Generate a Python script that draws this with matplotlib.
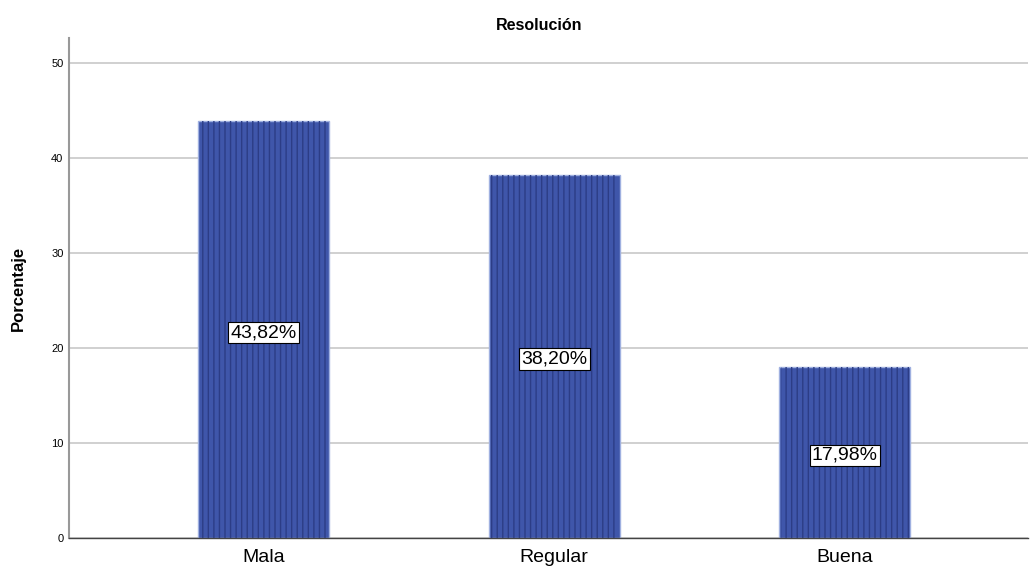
import matplotlib
matplotlib.use("Agg")
import matplotlib.pyplot as plt

categories = ["Mala", "Regular", "Buena"]
values = [43.82, 38.20, 17.98]
labels = ["43,82%", "38,20%", "17,98%"]
yticks = [0, 10, 20, 30, 40, 50]

plt.rcParams['font.family'] = ['Liberation Sans', 'DejaVu Sans']
plt.rcParams['hatch.linewidth'] = 1.0
plt.rcParams['hatch.color'] = '#2c3d86'

fig = plt.figure(figsize=(10.3, 5.67), dpi=100)
ax = fig.add_axes([0.067, 0.0511, 0.931, 0.882])

x = list(range(len(categories)))
ax.bar(x, values, width=0.45, color='#3f56aa', edgecolor='#9fb0e0', linewidth=1.0, zorder=2)
ax.bar(x, values, width=0.44, color='none', edgecolor='#2c3d86', hatch='|||', linewidth=0, zorder=3)

for xi, v, lab in zip(x, values, labels):
    ax.text(xi, v / 2 - 0.3, lab, ha='center', va='center', fontsize=14, color='black', zorder=4,
            bbox=dict(boxstyle='square,pad=0.12', facecolor='white', edgecolor='black', linewidth=0.8))

ax.set_xlim(-0.67, 2.63)
ax.set_ylim(0, 52.6)
ax.set_yticks(yticks)
ax.set_yticklabels([str(t) for t in yticks], fontsize=8)
ax.set_xticks(x)
ax.set_xticklabels(categories, fontsize=14)
ax.tick_params(axis='both', length=0, pad=4)
ax.tick_params(axis='x', pad=8)
ax.yaxis.grid(True, color='#c8c8c8', linewidth=1.2, zorder=0)
ax.set_axisbelow(True)
for s in ['top', 'right']:
    ax.spines[s].set_visible(False)
ax.spines['left'].set_color('#999999')
ax.spines['left'].set_linewidth(1.5)
ax.spines['bottom'].set_color('#444444')
ax.spines['bottom'].set_linewidth(1.0)

ax.set_ylabel('Porcentaje', fontsize=12, fontweight='bold', labelpad=18)
fig.text(0.523, 0.955, 'Resolución', ha='center', va='center', fontsize=11.5, fontweight='bold')

fig.savefig('out.png', dpi=100)
